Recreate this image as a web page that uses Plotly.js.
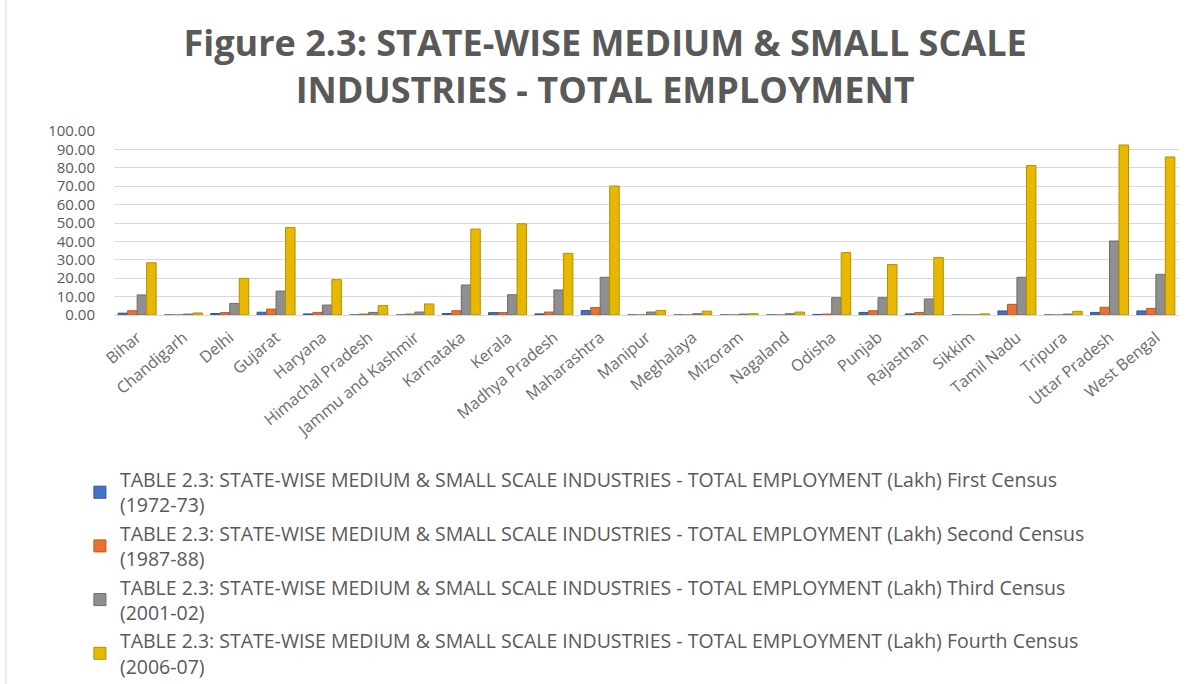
<!DOCTYPE html>
<html>
<head>
<meta charset="utf-8">
<script src="https://cdn.plot.ly/plotly-3.0.1.min.js"></script>
<style>html,body{margin:0;padding:0;background:#fff;}#chart{width:1203px;height:684px;}</style>
</head>
<body>
<div id="chart"></div>
<script>
const states = ["Bihar","Chandigarh","Delhi","Gujarat","Haryana","Himachal Pradesh","Jammu and Kashmir","Karnataka","Kerala","Madhya Pradesh","Maharashtra","Manipur","Meghalaya","Mizoram","Nagaland","Odisha","Punjab","Rajasthan","Sikkim","Tamil Nadu","Tripura","Uttar Pradesh","West Bengal"];
const firstCensus  = [1.0, 0.0, 0.8, 1.5, 0.6, 0.0, 0.0, 0.8, 1.3, 0.6, 2.4, 0.0, 0.0, 0.0, 0.0, 0.3, 1.4, 0.6, 0.0, 2.2, 0.0, 1.4, 2.2];
const secondCensus = [2.3, 0.0, 1.3, 3.2, 1.4, 0.5, 0.5, 2.3, 1.3, 1.6, 4.0, 0.0, 0.0, 0.0, 0.0, 0.5, 2.3, 1.4, 0.0, 5.8, 0.0, 4.2, 3.6];
const thirdCensus  = [10.9, 0.5, 6.3, 13.0, 5.4, 1.4, 1.6, 16.3, 11.0, 13.6, 20.5, 1.6, 0.7, 0.5, 0.7, 9.4, 9.4, 8.7, 0.0, 20.5, 0.5, 40.2, 22.1];
const fourthCensus = [28.4, 1.1, 19.9, 47.5, 19.2, 5.1, 6.0, 46.7, 49.6, 33.5, 70.1, 2.5, 2.1, 0.7, 1.6, 33.9, 27.4, 31.2, 0.6, 81.2, 2.0, 92.4, 85.9];
const seriesNames = [
  "TABLE 2.3: STATE-WISE MEDIUM & SMALL SCALE INDUSTRIES - TOTAL EMPLOYMENT (Lakh) First Census<br>(1972-73)",
  "TABLE 2.3: STATE-WISE MEDIUM & SMALL SCALE INDUSTRIES - TOTAL EMPLOYMENT (Lakh) Second Census<br>(1987-88)",
  "TABLE 2.3: STATE-WISE MEDIUM & SMALL SCALE INDUSTRIES - TOTAL EMPLOYMENT (Lakh) Third Census<br>(2001-02)",
  "TABLE 2.3: STATE-WISE MEDIUM & SMALL SCALE INDUSTRIES - TOTAL EMPLOYMENT (Lakh) Fourth Census<br>(2006-07)"
];
const colors = ["#4472C4", "#E97132", "#8F8F8F", "#E8B800"];
const lineColors = ["#2F5597", "#B85A1E", "#6B6B6B", "#B38F00"];
const values = [firstCensus, secondCensus, thirdCensus, fourthCensus];

const traces = values.map((v, i) => ({
  type: "bar",
  x: states,
  y: v,
  name: seriesNames[i],
  legendgroup: "g" + i,
  marker: {color: colors[i], line: {color: lineColors[i], width: 1}},
  hoverinfo: "x+y"
}));

const fam = "'Open Sans', sans-serif";
const layout = {
  width: 1203, height: 684,
  paper_bgcolor: "#fff", plot_bgcolor: "#fff",
  margin: {l: 114, r: 24, t: 131, b: 369, autoexpand: false},
  title: {
    text: "Figure 2.3: STATE-WISE MEDIUM & SMALL SCALE<br>INDUSTRIES - TOTAL EMPLOYMENT",
    font: {family: fam, size: 36, color: "#595959", weight: 700},
    x: 0.503, xanchor: "center", y: 0.918, yanchor: "top"
  },
  barmode: "group",
  bargap: 0.18,
  bargroupgap: 0,
  xaxis: {
    type: "category",
    tickangle: -40,
    tickfont: {family: fam, size: 16, color: "#6B6B6B"},
    ticklabelstandoff: 6,
    showgrid: false,
    showline: true, linecolor: "#D9D9D9", linewidth: 1,
    ticks: "", automargin: false
  },
  yaxis: {
    range: [0, 100], dtick: 10, tickformat: ".2f",
    tickfont: {family: fam, size: 15, color: "#595959"},
    ticklabelstandoff: 18,
    gridcolor: "#D9D9D9", gridwidth: 1,
    zeroline: false, showline: false, ticks: "", automargin: false
  },
  showlegend: true,
  legend: {
    orientation: "v",
    x: -0.032, xanchor: "left",
    y: -0.79, yanchor: "top",
    font: {family: fam, size: 19.5, color: "#595959"},
    tracegroupgap: 0,
    itemwidth: 30,
    traceorder: "normal"
  },
  shapes: [
    {type: "line", xref: "paper", yref: "paper", x0: -0.1014, x1: 1.0, y0: 3.396, y1: 3.396, line: {color: "#D9D9D9", width: 1}},
    {type: "line", xref: "paper", yref: "paper", x0: -0.1014, x1: -0.1014, y0: -2.005, y1: 3.396, line: {color: "#D9D9D9", width: 1}}
  ]
};

Plotly.newPlot("chart", traces, layout, {displayModeBar: false, staticPlot: true});
</script>
</body>
</html>
